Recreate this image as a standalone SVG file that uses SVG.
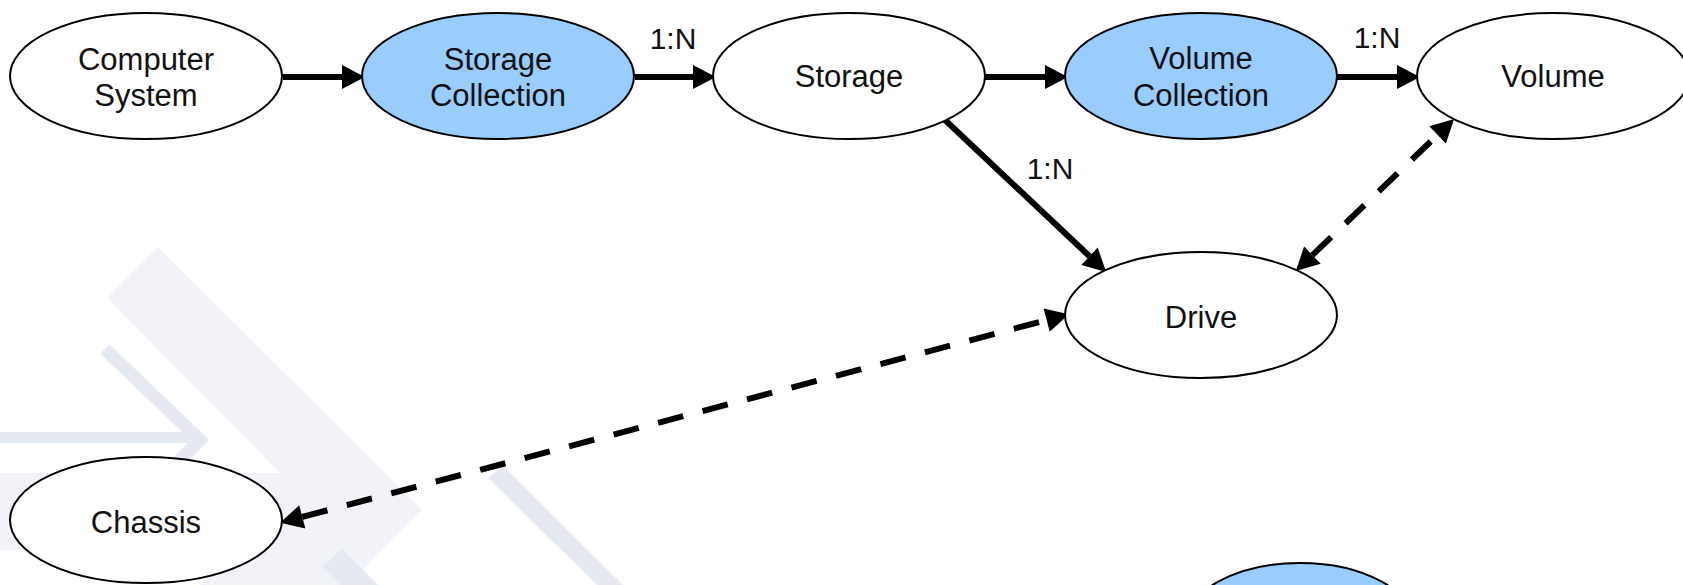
<svg xmlns="http://www.w3.org/2000/svg" width="1683" height="585" viewBox="0 0 1683 585">
  <style>
    .node { stroke: #000; stroke-width: 2; }
    .plain { fill: #ffffff; }
    .coll { fill: #99ccff; }
    .lbl { font-family: "Liberation Sans", Arial, sans-serif; font-size: 31px; fill: #111; text-anchor: middle; }
    .card { font-family: "Liberation Sans", Arial, sans-serif; font-size: 30px; fill: #111; text-anchor: middle; }
    .edge { stroke: #000; stroke-width: 6; fill: none; }
    .dash { stroke-dasharray: 26 20; }
    .wm1 { fill: #f1f3f8; }
    .wm2 { fill: #e5e9f2; }
  </style>
  <defs>
    <marker id="arrow" markerUnits="userSpaceOnUse" markerWidth="24" markerHeight="24" refX="0" refY="11" viewBox="0 0 21 22" orient="auto-start-reverse">
      <path d="M0,0 L21,11 L0,22 z" fill="#000"/>
    </marker>
  </defs>
  <rect width="1683" height="585" fill="#ffffff"/>

  <g id="watermark">
    <polygon class="wm1" points="107,298 158,247 422,510 347,585 200,585 296,489"/>
    <rect class="wm1" x="0" y="473" width="300" height="77"/>
    <rect class="wm2" x="0" y="432" width="190" height="11"/>
    <polyline points="105,349 200,440 150,490" fill="none" stroke="#e5e9f2" stroke-width="13"/>
    <polygon class="wm2" points="322,567 342,549 378,585 340,585"/>
    <polygon class="wm2" points="488,478 503,466 623,585 597,585"/>
  </g>

  <g id="connectors">
    <line class="edge" x1="283" y1="77" x2="342" y2="77" marker-end="url(#arrow)"/>
    <line class="edge" x1="635" y1="77" x2="693" y2="77" marker-end="url(#arrow)"/>
    <line class="edge" x1="985" y1="77" x2="1045" y2="77" marker-end="url(#arrow)"/>
    <line class="edge" x1="1337" y1="77" x2="1397" y2="77" marker-end="url(#arrow)"/>
    <line class="edge" x1="945" y1="120" x2="1089.5" y2="256.3" marker-end="url(#arrow)"/>
    <line class="edge dash" x1="302.3" y1="516.9" x2="1046.7" y2="320.1" marker-start="url(#arrow)" marker-end="url(#arrow)"/>
    <line class="edge dash" x1="1312.4" y1="255.1" x2="1437.6" y2="134.9" marker-start="url(#arrow)" marker-end="url(#arrow)"/>
    <text class="card" x="673" y="49">1:N</text>
    <text class="card" x="1377" y="48">1:N</text>
    <text class="card" x="1050" y="179">1:N</text>
  </g>

  <g id="computer-system">
    <ellipse class="node plain" cx="146" cy="76" rx="136" ry="63"/>
    <text class="lbl" x="146" y="70">Computer</text>
    <text class="lbl" x="146" y="106">System</text>
  </g>
  <g id="storage-collection">
    <ellipse class="node coll" cx="498" cy="76" rx="136" ry="63"/>
    <text class="lbl" x="498" y="70">Storage</text>
    <text class="lbl" x="498" y="106">Collection</text>
  </g>
  <g id="storage">
    <ellipse class="node plain" cx="849" cy="76" rx="136" ry="63"/>
    <text class="lbl" x="849" y="87">Storage</text>
  </g>
  <g id="volume-collection">
    <ellipse class="node coll" cx="1201" cy="76" rx="136" ry="63"/>
    <text class="lbl" x="1201" y="69">Volume</text>
    <text class="lbl" x="1201" y="106">Collection</text>
  </g>
  <g id="volume">
    <ellipse class="node plain" cx="1553" cy="76" rx="136" ry="63"/>
    <text class="lbl" x="1553" y="87">Volume</text>
  </g>
  <g id="drive">
    <ellipse class="node plain" cx="1201" cy="315" rx="136" ry="63"/>
    <text class="lbl" x="1201" y="328">Drive</text>
  </g>
  <g id="chassis">
    <ellipse class="node plain" cx="146" cy="520" rx="136" ry="63"/>
    <text class="lbl" x="146" y="533">Chassis</text>
  </g>
  <g id="partial-node">
    <ellipse class="node coll" cx="1300" cy="626" rx="115" ry="63"/>
  </g>
</svg>
